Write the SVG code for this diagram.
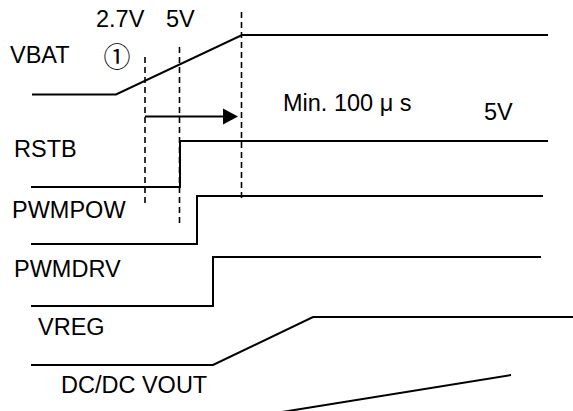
<svg xmlns="http://www.w3.org/2000/svg" width="573" height="411" viewBox="0 0 573 411">
<style>
.sig{fill:none;stroke:#000;stroke-width:2;stroke-linejoin:miter}
.dash{fill:none;stroke:#000;stroke-width:1.6;stroke-dasharray:6,4}
.t{font-family:"Liberation Sans",Arial,sans-serif;font-size:23.5px;fill:#000}
.c{font-family:"Noto Sans CJK JP","Noto Sans CJK SC",sans-serif;font-size:27px;fill:#000}
</style>
<rect width="573" height="411" fill="#fff"/>
<g id="labels">
<text class="t" x="96" y="27">2.7V</text>
<text class="t" x="166" y="27">5V</text>
<text class="t" x="10" y="63">VBAT</text>
<text class="c" x="103.5" y="67.2">①</text>
<text class="t" x="14" y="157">RSTB</text>
<text class="t" x="12" y="218">PWMPOW</text>
<text class="t" x="14" y="277">PWMDRV</text>
<text class="t" x="38" y="335">VREG</text>
<text class="t" x="61" y="393">DC/DC VOUT</text>
<text class="t" x="283" y="111">Min. 100 μ s</text>
<text class="t" x="484" y="120">5V</text>
</g>
<g id="VBAT"><polyline class="sig" points="32,94.5 116,94.5 242,35 548,35"/></g>
<g id="RSTB"><polyline class="sig" points="31,187 180,187 180,141 548,141"/></g>
<g id="PWMPOW"><polyline class="sig" points="31,244 197,244 197,196 543,196"/></g>
<g id="PWMDRV"><polyline class="sig" points="31,306 213,306 213,257 541,257"/></g>
<g id="VREG"><polyline class="sig" points="31,365 213,365 313,317 573,317"/></g>
<g id="DCDC_VOUT"><polyline class="sig" points="282,412 511,375"/></g>
<g id="connectors">
<line class="dash" x1="145" y1="57" x2="145" y2="203"/>
<line class="dash" x1="179.5" y1="47" x2="179.5" y2="223"/>
<line class="dash" x1="241.5" y1="12" x2="241.5" y2="200"/>
<line class="sig" x1="145" y1="116.5" x2="225" y2="116.5"/>
<polygon points="223,108.5 238,116.5 223,124.5" fill="#000"/>
</g>
</svg>
